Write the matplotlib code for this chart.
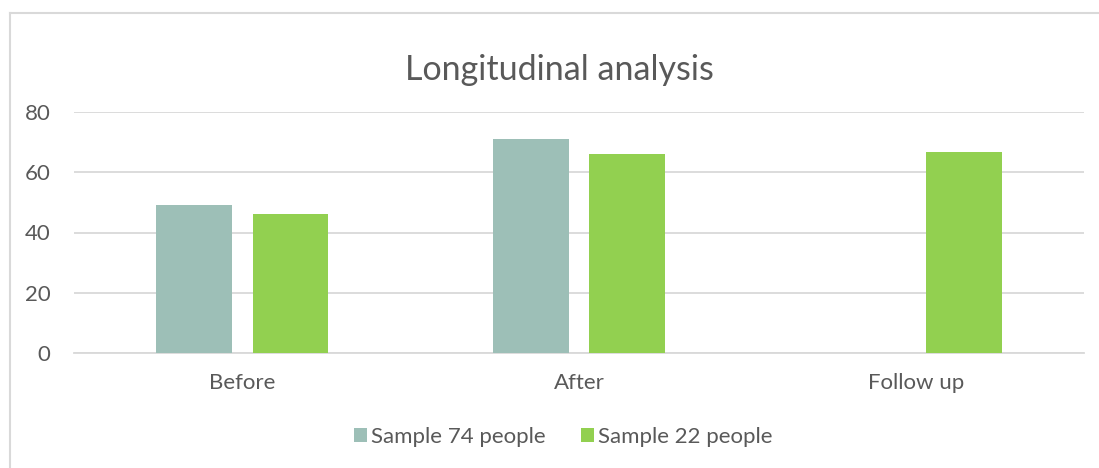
import numpy as np
import matplotlib
matplotlib.use("Agg")
import matplotlib.pyplot as plt
from matplotlib.patches import Patch
from matplotlib.lines import Line2D

# Data

categories = ["Before", "After", "Follow up"]
sample_74 = [49, 71, np.nan]
sample_22 = [46, 66, 66.7]
series_names = ["Sample 74 people", "Sample 22 people"]
yticks = [0, 20, 40, 60, 80]

color_74 = "#9DBFB7"
color_22 = "#92D050"
text_color = "#595959"
grid_color = "#D9D9D9"

plt.rcParams["font.family"] = ["Lato", "DejaVu Sans"]

fig = plt.figure(figsize=(10.99, 4.68), dpi=100)
ax = fig.add_axes([74 / 1099, 1 - 353.3 / 468, (1084 - 74) / 1099, (353.3 - 111.7) / 468])

x = np.arange(len(categories))
width = 0.2245
offset = 0.143

ax.bar(x - offset, sample_74, width, color=color_74, label=series_names[0], zorder=3)
ax.bar(x + offset, sample_22, width, color=color_22, label=series_names[1], zorder=3)

ax.set_xlim(-0.5, len(categories) - 0.5)
ax.set_ylim(0, 80)
ax.set_yticks(yticks)
ax.set_xticks(x)
ax.set_xticklabels(categories)

ax.yaxis.grid(True, color=grid_color, linewidth=1.3, zorder=0)
ax.set_axisbelow(True)
for side in ["top", "right", "left"]:
    ax.spines[side].set_visible(False)
ax.spines["bottom"].set_color(grid_color)
ax.spines["bottom"].set_linewidth(1.3)

ax.tick_params(axis="both", length=0, labelsize=16, colors=text_color)
ax.tick_params(axis="y", pad=17)
ax.tick_params(axis="x", pad=14)

fig.text(0.509, 1 - 70 / 468, "Longitudinal analysis", ha="center", va="center",
         fontsize=24.5, color=text_color)

handles = [
    Patch(facecolor=color_74, label=series_names[0]),
    Patch(facecolor=color_22, label=series_names[1]),
]
fig.legend(
    handles=handles,
    loc="center",
    bbox_to_anchor=(563 / 1099, 1 - 437 / 468),
    ncol=2,
    frameon=False,
    fontsize=16,
    labelcolor=text_color,
    handlelength=0.6,
    handleheight=0.6,
    handletextpad=0.15,
    columnspacing=1.6,
)

# chart border (top and left visible)
fig.add_artist(Line2D([9.5 / 1099, 1], [1 - 12.5 / 468, 1 - 12.5 / 468],
                      transform=fig.transFigure, color=grid_color, linewidth=1.5))
fig.add_artist(Line2D([9.5 / 1099, 9.5 / 1099], [0, 1 - 12.5 / 468],
                      transform=fig.transFigure, color=grid_color, linewidth=1.5))

fig.savefig("out.png", dpi=100)
plt.close()
